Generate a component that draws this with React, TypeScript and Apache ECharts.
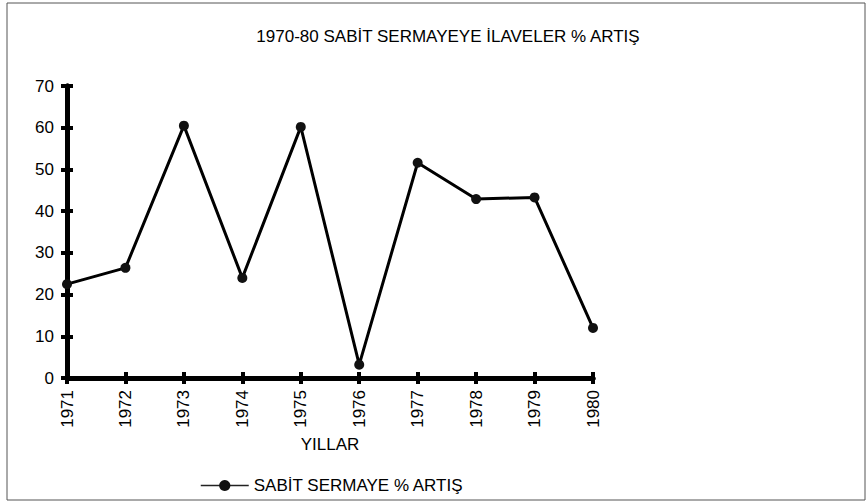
import React, { useEffect, useRef } from "react";
import * as echarts from "echarts";

const years = ["1971", "1972", "1973", "1974", "1975", "1976", "1977", "1978", "1979", "1980"];
const growth = [22.5, 26.4, 60.5, 24.0, 60.2, 3.2, 51.6, 42.9, 43.3, 12.0];
const seriesName = "SABİT SERMAYE % ARTIŞ";
const titleText = "1970-80 SABİT SERMAYEYE İLAVELER % ARTIŞ";
const xName = "YILLAR";

const FONT = "'Liberation Sans', Arial, sans-serif";
const FS = 17;

export default function App() {
  const ref = useRef<HTMLDivElement>(null);
  useEffect(() => {
    if (!ref.current) return;
    const chart = echarts.init(ref.current, null, { renderer: "svg" });
    const axisLine = { show: true, lineStyle: { color: "#000", width: 5 } };
    const tick = { show: true, length: 6, lineStyle: { color: "#000", width: 4 } };
    chart.setOption({
      animation: false,
      backgroundColor: "#ffffff",
      textStyle: { fontFamily: FONT, color: "#000" },
      title: {
        text: titleText,
        left: 443,
        top: 23,
        textAlign: "center",
        textStyle: { fontFamily: FONT, fontSize: FS, fontWeight: "normal", color: "#000" },
      },
      legend: {
        left: 195,
        top: 472,
        itemWidth: 48,
        itemHeight: 14,
        textStyle: { fontFamily: FONT, fontSize: FS, color: "#000" },
        lineStyle: { width: 1.5, color: "#222" },
        data: [seriesName],
      },
      graphic: [
        {
          type: "rect",
          shape: { x: 7, y: 3, width: 858, height: 497 },
          style: { fill: "none", stroke: "#555", lineWidth: 1 },
          silent: true,
        },
      ],
      grid: { left: 67, right: 273, top: 86, bottom: 125 },
      xAxis: [
        {
          type: "category",
          data: years,
          boundaryGap: false,
          name: xName,
          nameLocation: "middle",
          nameGap: 58,
          nameTextStyle: { fontFamily: FONT, fontSize: FS, color: "#000" },
          axisLine,
          axisTick: { ...tick, alignWithLabel: true },
          axisLabel: { rotate: 90, fontFamily: FONT, fontSize: FS, color: "#000", margin: 12 },
          splitLine: { show: false },
        },
        {
          type: "category",
          data: years,
          boundaryGap: false,
          position: "bottom",
          axisLine,
          axisTick: { ...tick, inside: true },
          axisLabel: { show: false },
          splitLine: { show: false },
        },
      ],
      yAxis: [
        {
          type: "value",
          min: 0,
          max: 70,
          interval: 10,
          axisLine,
          axisTick: tick,
          axisLabel: { fontFamily: FONT, fontSize: FS, color: "#000", margin: 13 },
          splitLine: { show: false },
        },
        {
          type: "value",
          min: 0,
          max: 70,
          interval: 10,
          position: "left",
          axisLine,
          axisTick: { ...tick, inside: true },
          axisLabel: { show: false },
          splitLine: { show: false },
        },
      ],
      series: [
        {
          name: seriesName,
          type: "line",
          data: growth,
          symbol: "circle",
          symbolSize: 10,
          lineStyle: { color: "#000", width: 3 },
          itemStyle: { color: "#111" },
        },
      ],
    });
    return () => chart.dispose();
  }, []);
  return (
    <div
      ref={ref}
      style={{ position: "fixed", left: 0, top: 0, width: 866, height: 503 }}
    />
  );
}
